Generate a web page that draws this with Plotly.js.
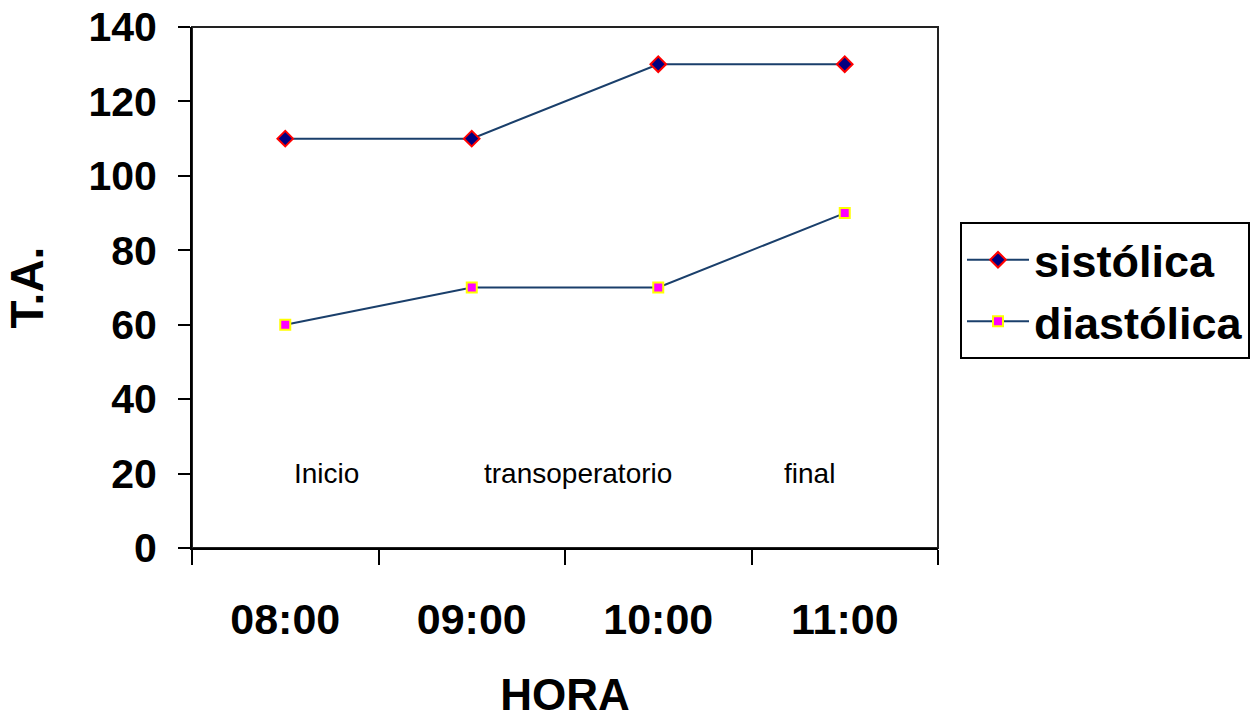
<!DOCTYPE html>
<html>
<head>
<meta charset="utf-8">
<script src="https://cdn.plot.ly/plotly-3.0.1.min.js"></script>
<style>html,body{margin:0;padding:0;background:#fff;}#chart{width:1258px;height:719px;}</style>
</head>
<body>
<div id="chart"></div>
<script>
var horas = ["08:00", "09:00", "10:00", "11:00"];
var sistolica = [110, 110, 130, 130];
var diastolica = [60, 70, 70, 90];
var yTicks = [0, 20, 40, 60, 80, 100, 120, 140];
var fases = ["Inicio", "transoperatorio", "final"];
var fasesX = [0.22, 1.57, 2.81];
var fasesY = [20, 20, 20];

var lineColor = "#1a3f6b";
var traces = [
  {
    x: horas, y: sistolica, name: "sistólica", type: "scatter", mode: "lines+markers",
    line: {color: lineColor, width: 2},
    marker: {symbol: "diamond", size: 12, color: "#000080", line: {color: "#ff0000", width: 2}}
  },
  {
    x: horas, y: diastolica, name: "diastólica", type: "scatter", mode: "lines+markers",
    line: {color: lineColor, width: 2},
    marker: {symbol: "square", size: 10, color: "#ff00ff", line: {color: "#ffff00", width: 2}}
  }
];

var annotations = fases.map(function (t, i) {
  return {
    x: fasesX[i], y: fasesY[i], xref: "x", yref: "y", text: t, showarrow: false,
    font: {family: "Arial, Liberation Sans, sans-serif", size: 28, color: "#000"},
    xanchor: "center", yanchor: "middle"
  };
});

var layout = {
  width: 1258, height: 719,
  margin: {l: 192, r: 320, t: 27, b: 171, autoexpand: false},
  paper_bgcolor: "#fff", plot_bgcolor: "#fff",
  font: {family: "Arial, Liberation Sans, sans-serif", color: "#000"},
  showlegend: true,
  legend: {
    x: 1.0295, y: 0.6257, xanchor: "left", yanchor: "top",
    bordercolor: "#000", borderwidth: 2, bgcolor: "#fff",
    font: {size: 45, family: "Arial, Liberation Sans, sans-serif", weight: "bold", color: "#000"},
    itemwidth: 62,
    tracegroupgap: 0
  },
  xaxis: {
    type: "category", categoryorder: "array", categoryarray: horas,
    range: [-0.5, 3.5], fixedrange: true,
    showline: true, linecolor: "#000", linewidth: 2,
    ticks: "outside", ticklen: 15, tickwidth: 2, tickcolor: "#000", tickson: "boundaries",
    showgrid: false, zeroline: false,
    tickfont: {size: 43, weight: "bold"},
    ticklabelstandoff: 32,
    title: {text: "HORA", font: {size: 44, weight: "bold"}, standoff: 48}
  },
  yaxis: {
    range: [0, 140], tickvals: yTicks, fixedrange: true,
    showline: true, linecolor: "#000", linewidth: 2,
    ticks: "outside", ticklen: 12, tickwidth: 2, tickcolor: "#000",
    showgrid: false, zeroline: false,
    tickfont: {size: 41, weight: "bold"},
    ticklabelstandoff: 13,
    title: {text: "T.A.", font: {size: 46, weight: "bold"}, standoff: 30}
  },
  shapes: [{
    type: "rect", xref: "paper", yref: "paper", x0: 0, x1: 1, y0: 0, y1: 1,
    line: {color: "#222", width: 2}, fillcolor: "rgba(0,0,0,0)", layer: "below"
  }],
  annotations: annotations
};

Plotly.newPlot("chart", traces, layout, {displayModeBar: false, staticPlot: true});
</script>
</body>
</html>
